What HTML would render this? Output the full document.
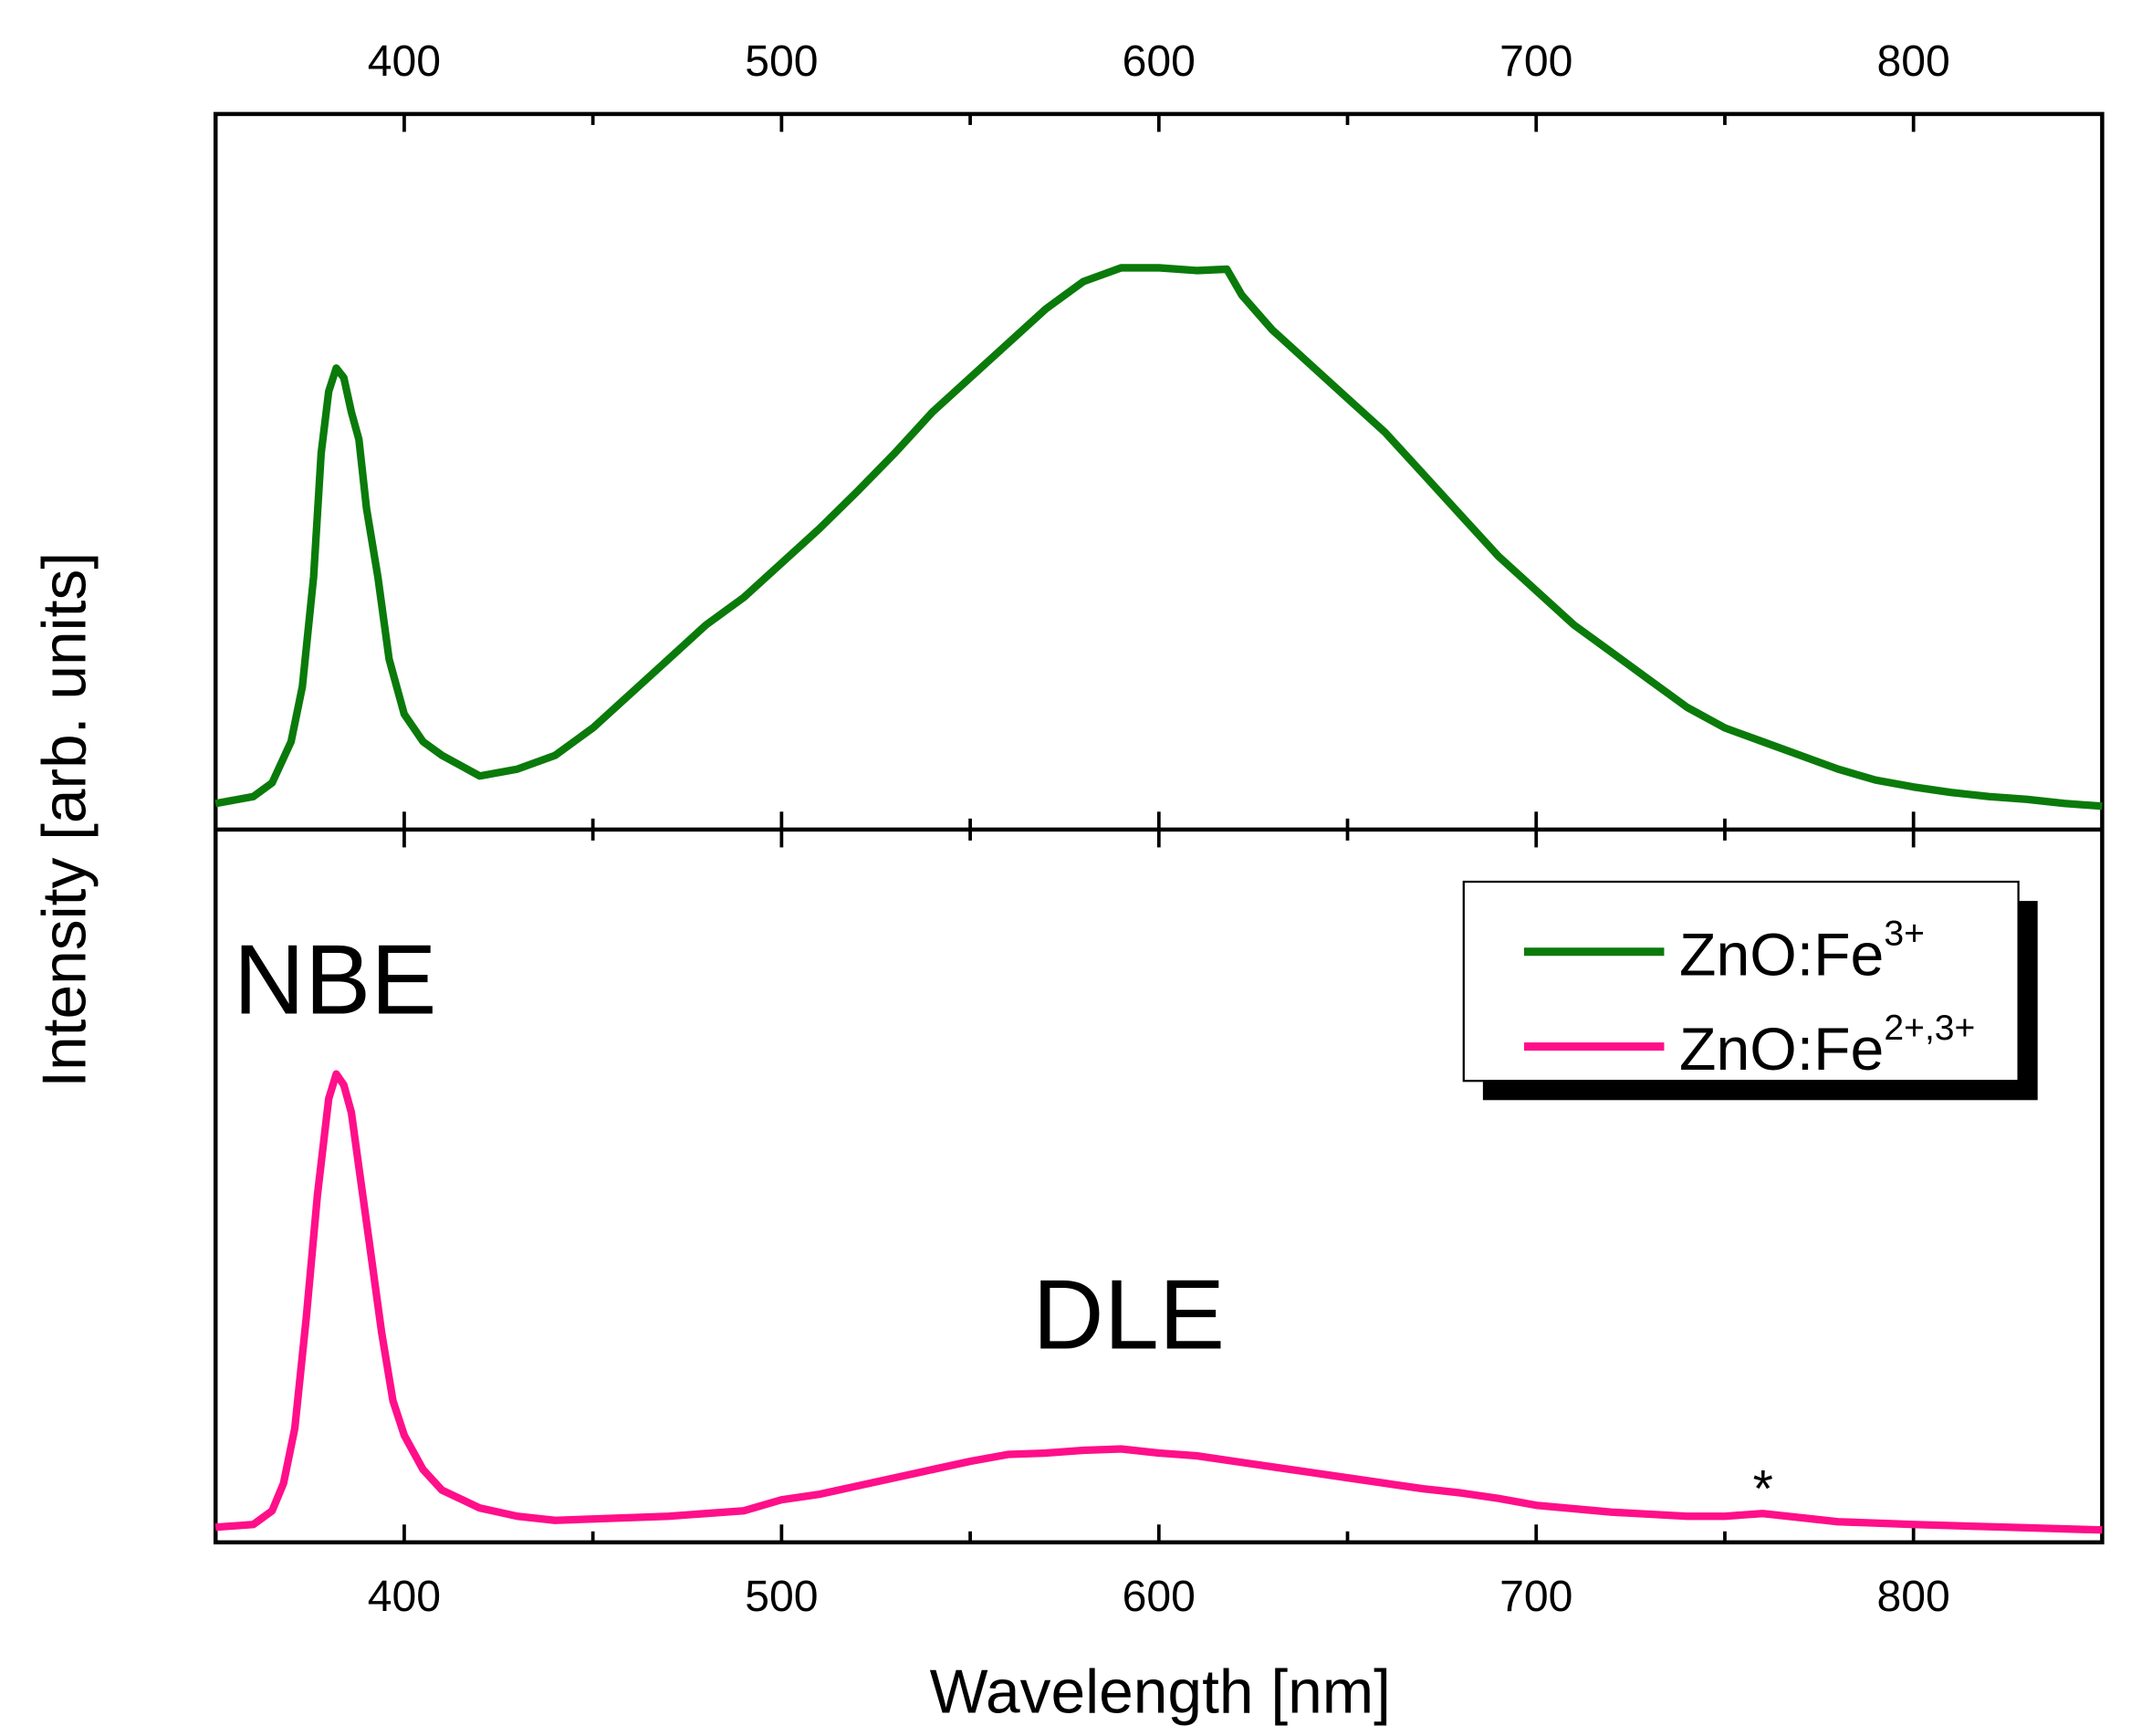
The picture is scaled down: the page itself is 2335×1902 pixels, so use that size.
<!DOCTYPE html>
<html><head><meta charset="utf-8"><style>html,body{margin:0;padding:0;background:#fff}svg{display:block}text{font-family:"Liberation Sans",Arial,sans-serif}</style></head>
<body>
<svg id="chart" width="2335" height="1902" viewBox="0 0 1552 1264" preserveAspectRatio="none" xmlns="http://www.w3.org/2000/svg">
<g id="axes"></g>
<g id="series"></g>
<text transform="translate(62,597) rotate(-90)" text-anchor="middle" font-size="45">Intensity [arb. units]</text>
<text x="845" y="1247" text-anchor="middle" font-size="45">Wavelength [nm]</text>
<text x="170" y="738" font-size="72">NBE</text>
<text x="752" y="982" font-size="72">DLE</text>
<text x="1284" y="1097" text-anchor="middle" font-size="38">*</text>
<g>
<rect x="1080" y="656" width="404" height="145" fill="#000"/>
<rect x="1066" y="642" width="404" height="145" fill="#fff" stroke="#000" stroke-width="1.5"/>
<line x1="1110" y1="693" x2="1212" y2="693" stroke="#0a7a0a" stroke-width="6"/>
<text x="1223" y="710" font-size="44">ZnO:Fe<tspan dy="-22" font-size="26">3+</tspan></text>
<line x1="1110" y1="762" x2="1212" y2="762" stroke="#ff0f8a" stroke-width="6"/>
<text x="1223" y="779" font-size="44">ZnO:Fe<tspan dy="-22" font-size="26">2+,3+</tspan></text>
</g>
</svg>
<script>
const greenWl=[350,360,365,370,373,376,378,380,382,384,386,388,390,393,396,400,405,410,420,430,440,450,460,470,480,490,500,510,520,530,540,550,560,570,575,580,590,600,610,618,622,630,640,650,660,670,680,690,700,710,720,730,740,750,760,770,780,790,800,810,820,830,840,850];
const greenI=[0,5,15,45,85,165,255,300,317,310,285,265,215,165,105,65,45,35,20,25,35,55,80,105,130,150,175,200,227,255,285,310,335,360,370,380,390,390,388,389,370,345,320,295,270,240,210,180,155,130,110,90,70,55,45,35,25,17,12,8,5,3,0,-2];
const pinkWl=[350,360,365,368,371,374,377,380,382,384,386,388,391,394,397,400,405,410,420,430,440,450,470,490,500,510,520,530,540,550,560,570,580,590,600,610,620,630,640,650,660,670,680,690,700,720,740,750,760,770,780,800,825,850];
const pinkI=[0,2,12,32,72,152,242,312,330,322,302,262,202,142,92,67,42,27,14,8,5,6,8,12,20,24,30,36,42,48,53,54,56,57,54,52,48,44,40,36,32,28,25,21,16,11,8,8,10,7,4,2,0,-2];
const xTicks=[400,500,600,700,800];
const xMinor=[350,450,550,650,750,850];
const NS='http://www.w3.org/2000/svg';
const L=157,R=1531,T=83,M=604,B=1123;
const xs=v=>L+(v-350)/(850-350)*(R-L);
const yTop=v=>585-v*(392/392);
const yBot=v=>1112-v*(332/332);
function mk(tag,attrs,parent){const e=document.createElementNS(NS,tag);for(const k in attrs)e.setAttribute(k,attrs[k]);parent.appendChild(e);return e;}
const ax=document.getElementById('axes');
const frame=mk('rect',{x:L,y:T,width:R-L,height:B-T,fill:'none',stroke:'#000','stroke-width':3},ax);


const div=mk('line',{x1:L,y1:M,x2:R,y2:M,stroke:'#000','stroke-width':3},ax);


function ticks(list,len){list.forEach(v=>{const x=xs(v);[[T,1],[M,-1],[M,1],[B,-1]].forEach(([y,d])=>{const t=mk('line',{x1:x,y1:y,x2:x,y2:y+d*len,stroke:'#000','stroke-width':2.5},ax);

});});}
ticks(xTicks,13);ticks(xMinor,8);
xTicks.forEach(v=>{[[55],[1173]].forEach(([y])=>{const t=mk('text',{x:xs(v),y:y,'text-anchor':'middle','font-size':32},ax);t.textContent=v;

});});
const sg=document.getElementById('series');
function line(wl,iv,yf,color,name){const d=wl.map((w,i)=>(i?'L':'M')+xs(w).toFixed(1)+','+yf(iv[i]).toFixed(1)).join(' ');
const p=mk('path',{d:d,fill:'none',stroke:color,'stroke-width':5.5,'stroke-linejoin':'round'},sg);

}
line(greenWl,greenI,yTop,'#0a7a0a','series-fe3');
line(pinkWl,pinkI,yBot,'#ff0f8a','series-fe23');
</script>
</body></html>
